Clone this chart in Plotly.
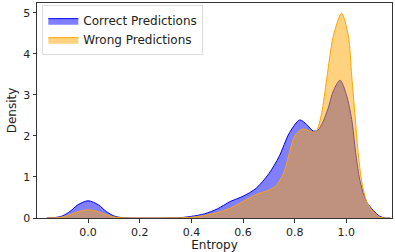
import plotly.graph_objects as go

# Entropy grid points and KDE densities
correct_x = [-0.16, -0.13, -0.1, -0.07, -0.04, 0.0, 0.04, 0.07, 0.1, 0.13, 0.16,
             0.3, 0.36, 0.4, 0.45, 0.5, 0.55, 0.6, 0.65, 0.7, 0.74, 0.78, 0.82,
             0.846, 0.872, 0.89, 0.91, 0.93, 0.95, 0.976, 1.0, 1.021, 1.036,
             1.05, 1.065, 1.08, 1.105, 1.13, 1.15, 1.17]
correct_y = [0.0, 0.01, 0.05, 0.16, 0.32, 0.42, 0.32, 0.16, 0.05, 0.01, 0.0,
             0.0, 0.01, 0.04, 0.1, 0.22, 0.4, 0.53, 0.72, 1.08, 1.5, 2.08, 2.39,
             2.28, 2.12, 2.14, 2.35, 2.68, 3.1, 3.36, 3.01, 2.4, 1.6,
             1.0, 0.62, 0.38, 0.18, 0.04, 0.0, 0.0]

wrong_x = [-0.16, -0.13, -0.1, -0.07, -0.04, 0.0, 0.04, 0.07, 0.1, 0.13, 0.16,
           0.3, 0.38, 0.43, 0.5, 0.55, 0.6, 0.65, 0.7, 0.73, 0.76, 0.78, 0.8,
           0.83, 0.85, 0.87, 0.885, 0.905, 0.924, 0.95, 0.982, 1.008, 1.021,
           1.034, 1.045, 1.06, 1.08, 1.105, 1.13, 1.15, 1.17]
wrong_y = [0.0, 0.005, 0.025, 0.08, 0.15, 0.2, 0.15, 0.08, 0.025, 0.005, 0.0,
           0.0, 0.01, 0.04, 0.13, 0.24, 0.4, 0.57, 0.68, 0.8, 1.15, 1.6, 2.0,
           2.17, 2.14, 2.09, 2.13, 2.57, 3.38, 4.44, 4.99, 4.44, 3.46,
           2.48, 1.65, 0.88, 0.38, 0.15, 0.02, 0.0, 0.0]

x_ticks = [0.0, 0.2, 0.4, 0.6, 0.8, 1.0]
y_ticks = [0, 1, 2, 3, 4, 5]

fig = go.Figure()
fig.add_trace(go.Scatter(
    x=correct_x, y=correct_y, name="Correct Predictions", mode="lines",
    line=dict(color="rgb(0,0,255)", width=1, shape="spline", smoothing=0.8),
    fill="tozeroy", fillcolor="rgba(0,0,255,0.5)"))
fig.add_trace(go.Scatter(
    x=wrong_x, y=wrong_y, name="Wrong Predictions", mode="lines",
    line=dict(color="rgb(255,165,0)", width=1, shape="spline", smoothing=0.8),
    fill="tozeroy", fillcolor="rgba(255,165,0,0.5)"))

font = dict(family="DejaVu Sans", size=11, color="#222")
fig.update_layout(
    width=395, height=252,
    margin=dict(l=37, r=3, t=3, b=34),
    paper_bgcolor="white", plot_bgcolor="white",
    font=font,
    showlegend=True,
    legend=dict(x=0.015, y=0.99, xanchor="left", yanchor="top",
                bgcolor="rgba(255,255,255,0.8)", bordercolor="#dddddd",
                borderwidth=1, font=dict(family="DejaVu Sans", size=12, color="#222"),
                tracegroupgap=0, itemwidth=30),
    xaxis=dict(range=[-0.198, 1.177], tickvals=x_ticks,
               ticktext=[f"{v:.1f}" for v in x_ticks],
               showgrid=False, zeroline=False, showline=True, linecolor="#333",
               linewidth=1, mirror=True, ticks="outside", ticklen=3.5,
               tickcolor="#333",
               title=dict(text="Entropy", standoff=2,
                          font=dict(family="DejaVu Sans", size=12, color="#222"))),
    yaxis=dict(range=[0, 5.24], tickvals=y_ticks,
               showgrid=False, zeroline=False, showline=True, linecolor="#333",
               linewidth=1, mirror=True, ticks="outside", ticklen=3.5,
               tickcolor="#333",
               title=dict(text="Density", standoff=4,
                          font=dict(family="DejaVu Sans", size=12, color="#222"))),
)

fig.write_html("out.html", config={"displayModeBar": False},
               post_script="document.body.style.margin='0';document.body.style.padding='0';")
